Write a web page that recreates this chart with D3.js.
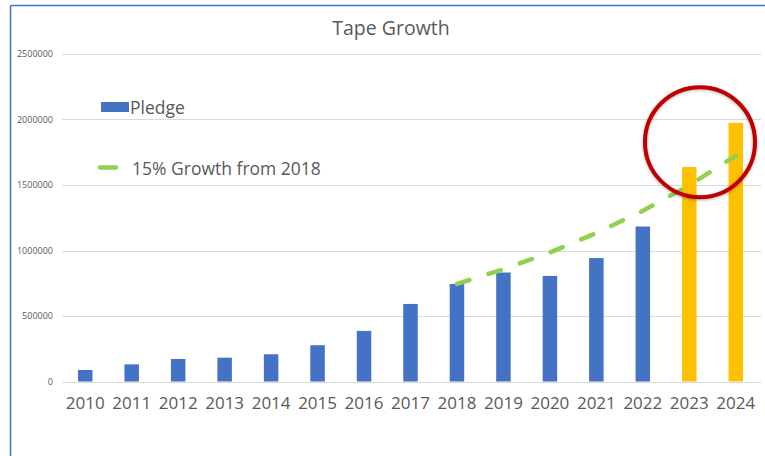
<!DOCTYPE html>
<html>
<head>
<meta charset="utf-8">
<script src="https://cdn.jsdelivr.net/npm/d3@7"></script>
<style>
  html, body { margin: 0; padding: 0; background: #fff; }
  svg { display: block; }
  text { font-family: "Open Sans", "Liberation Sans", sans-serif; fill: #595959; }
</style>
</head>
<body>
<script>
// ---- data ----
const years = ["2010","2011","2012","2013","2014","2015","2016","2017","2018","2019","2020","2021","2022","2023","2024"];
const pledge = [88000, 131000, 172000, 182000, 208000, 277000, 386000, 592000, 745000, 832000, 806000, 942000, 1183000, 1637000, 1974000];
const highlightYears = ["2023", "2024"];
const growthYears = ["2018","2019","2020","2021","2022","2023","2024"];
const growthValues = [745000, 857000, 985000, 1133000, 1303000, 1498000, 1723000];
const yTicks = [0, 500000, 1000000, 1500000, 2000000, 2500000];
const title = "Tape Growth";
const legendLabels = ["Pledge", "15% Growth from 2018"];

// ---- setup ----
const W = 765, H = 456;
const svg = d3.select("body").append("svg").attr("width", W).attr("height", H);

const x = d3.scaleBand().domain(years).range([62, 759]).padding(0);
const y = d3.scaleLinear().domain([0, 2500000]).range([381.5, 54]);

// outer border (blue, top and left visible)
svg.append("line").attr("x1", 10.5).attr("x2", W).attr("y1", 5.5).attr("y2", 5.5)
  .attr("stroke", "#4472C4").attr("stroke-width", 1.5);
svg.append("line").attr("x1", 10.5).attr("x2", 10.5).attr("y1", 5.5).attr("y2", H)
  .attr("stroke", "#4472C4").attr("stroke-width", 1.5);

// title
svg.append("text").attr("x", 391).attr("y", 35).attr("text-anchor", "middle")
  .style("font-size", "19.5px").text(title);

// gridlines
svg.append("g").selectAll("line").data(yTicks).join("line")
  .attr("x1", 62).attr("x2", 761)
  .attr("y1", d => Math.round(y(d)) + 0.5).attr("y2", d => Math.round(y(d)) + 0.5)
  .attr("stroke", "#d9d9d9").attr("stroke-width", 1);

// y axis labels
const yAxis = d3.axisLeft(y).tickValues(yTicks).tickSize(0).tickPadding(0).tickFormat(d3.format("d"));
const gy = svg.append("g").attr("transform", "translate(53,0)").call(yAxis);
gy.select(".domain").remove();
gy.selectAll("text").style("font-size", "9px").attr("fill", "#595959")
  .style("font-family", "'Open Sans', sans-serif");

// x axis labels
const xAxis = d3.axisBottom(x).tickSize(0).tickPadding(0);
const gx = svg.append("g").attr("transform", "translate(0,396.5)").call(xAxis);
gx.select(".domain").remove();
gx.selectAll("text").style("font-size", "17px").attr("fill", "#595959")
  .style("font-family", "'Open Sans', sans-serif");

// bars
const barW = 14.5;
svg.append("g").selectAll("rect").data(years.map((yr, i) => ({yr, v: pledge[i]}))).join("rect")
  .attr("x", d => x(d.yr) + x.bandwidth() / 2 - barW / 2)
  .attr("width", barW)
  .attr("y", d => y(d.v))
  .attr("height", d => y(0) - y(d.v))
  .attr("fill", d => highlightYears.includes(d.yr) ? "#FFC000" : "#4472C4");

// growth line
const line = d3.line()
  .x(d => x(d.yr) + x.bandwidth() / 2)
  .y(d => y(d.v));
svg.append("path")
  .datum(growthYears.map((yr, i) => ({yr, v: growthValues[i]})))
  .attr("d", line)
  .attr("fill", "none")
  .attr("stroke", "#92D050")
  .attr("stroke-width", 4.5)
  .attr("stroke-linecap", "round")
  .attr("stroke-dasharray", "13 20");

// legend
svg.append("rect").attr("x", 101).attr("y", 102).attr("width", 28).attr("height", 10).attr("fill", "#4472C4");
svg.append("text").attr("x", 130).attr("y", 113.5).style("font-size", "17.5px").text(legendLabels[0]);
svg.append("line").attr("x1", 100).attr("x2", 116).attr("y1", 167.5).attr("y2", 167.5)
  .attr("stroke", "#92D050").attr("stroke-width", 4.5).attr("stroke-linecap", "round");
svg.append("text").attr("x", 132).attr("y", 174.5).style("font-size", "17.5px").text(legendLabels[1]);

// red highlight circle
const defs = svg.append("defs");
const f = defs.append("filter").attr("id", "sh").attr("x", "-20%").attr("y", "-20%").attr("width", "140%").attr("height", "140%");
f.append("feDropShadow").attr("dx", 0).attr("dy", 1).attr("stdDeviation", 1.5).attr("flood-color", "#000").attr("flood-opacity", 0.3);
svg.append("circle")
  .attr("cx", x("2023") + x.bandwidth() / 2 + 0.23 * x.step())
  .attr("cy", y(1827000))
  .attr("r", 55)
  .attr("fill", "none")
  .attr("stroke", "#C00000")
  .attr("stroke-width", 4)
  .attr("filter", "url(#sh)");
</script>
</body>
</html>
